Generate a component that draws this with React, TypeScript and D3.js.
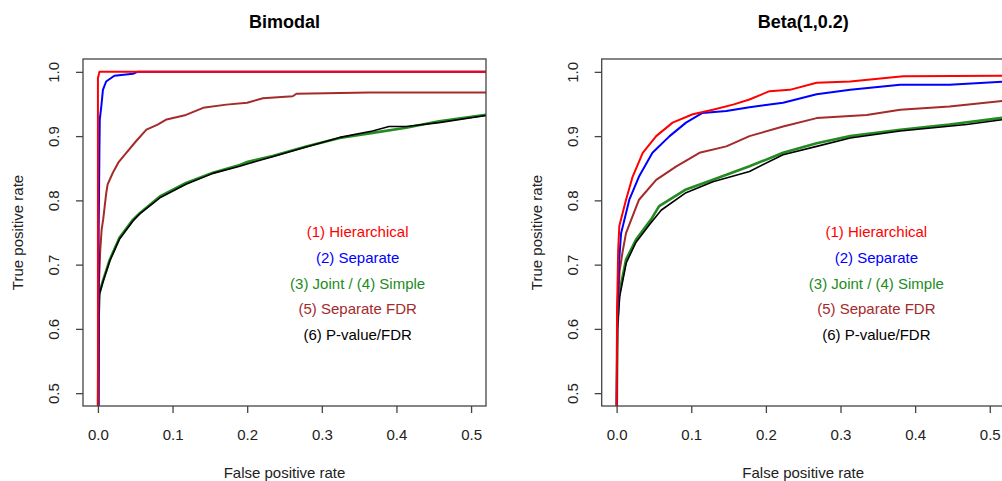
import React, { useRef, useEffect } from 'react';
import * as d3 from 'd3';

type Pt = [number, number];

// ROC points (false positive rate, true positive rate)
const bimodalHierarchical: Pt[] = [[0, 0.45], [0, 0.99], [0.002, 1.0], [0.52, 1.0]];
const bimodalSeparate: Pt[] = [[0.001, 0.45], [0.001, 0.75], [0.002, 0.88], [0.0025, 0.926], [0.0045, 0.946], [0.0067, 0.972], [0.011, 0.985], [0.022, 0.994], [0.047, 0.997], [0.053, 1.0], [0.52, 1.0]];
const bimodalSeparateFdr: Pt[] = [[0, 0.45], [0.001, 0.66], [0.003, 0.72], [0.005, 0.755], [0.007, 0.77], [0.009, 0.79], [0.011, 0.81], [0.013, 0.825], [0.02, 0.843], [0.028, 0.86], [0.038, 0.874], [0.051, 0.892], [0.065, 0.91], [0.08, 0.918], [0.092, 0.926], [0.118, 0.933], [0.141, 0.944], [0.172, 0.949], [0.2, 0.952], [0.221, 0.959], [0.261, 0.962], [0.266, 0.966], [0.364, 0.968], [0.52, 0.968]];
const bimodalJoint: Pt[] = [[0, 0.45], [0.001, 0.62], [0.002, 0.656], [0.007, 0.676], [0.016, 0.708], [0.029, 0.742], [0.047, 0.77], [0.056, 0.78], [0.083, 0.806], [0.118, 0.827], [0.154, 0.843], [0.19, 0.855], [0.201, 0.86], [0.234, 0.869], [0.279, 0.884], [0.324, 0.897], [0.368, 0.905], [0.413, 0.913], [0.457, 0.923], [0.52, 0.933]];
const bimodalPvalue: Pt[] = [[0, 0.45], [0.001, 0.62], [0.002, 0.654], [0.007, 0.674], [0.016, 0.706], [0.029, 0.74], [0.047, 0.768], [0.056, 0.779], [0.083, 0.804], [0.118, 0.825], [0.154, 0.842], [0.19, 0.853], [0.201, 0.857], [0.234, 0.868], [0.279, 0.883], [0.324, 0.898], [0.368, 0.908], [0.39, 0.915], [0.413, 0.915], [0.457, 0.921], [0.52, 0.932]];

const betaHierarchical: Pt[] = [[0, 0.45], [0.0005, 0.62], [0.002, 0.72], [0.0036, 0.76], [0.0126, 0.801], [0.0215, 0.837], [0.035, 0.874], [0.053, 0.9], [0.075, 0.921], [0.102, 0.934], [0.129, 0.941], [0.156, 0.949], [0.178, 0.957], [0.205, 0.97], [0.232, 0.972], [0.268, 0.983], [0.313, 0.985], [0.384, 0.993], [0.52, 0.994]];
const betaSeparate: Pt[] = [[0, 0.45], [0.0008, 0.62], [0.003, 0.7], [0.006, 0.749], [0.017, 0.801], [0.03, 0.837], [0.048, 0.874], [0.071, 0.9], [0.093, 0.921], [0.115, 0.936], [0.147, 0.939], [0.178, 0.945], [0.223, 0.952], [0.268, 0.965], [0.313, 0.972], [0.38, 0.98], [0.446, 0.98], [0.52, 0.985]];
const betaSeparateFdr: Pt[] = [[0, 0.45], [0.001, 0.62], [0.004, 0.69], [0.008, 0.72], [0.0126, 0.749], [0.03, 0.801], [0.053, 0.832], [0.08, 0.853], [0.111, 0.874], [0.147, 0.884], [0.178, 0.9], [0.223, 0.915], [0.268, 0.928], [0.335, 0.933], [0.38, 0.941], [0.446, 0.946], [0.52, 0.955]];
const betaJoint: Pt[] = [[0, 0.45], [0.001, 0.6], [0.0036, 0.656], [0.0126, 0.708], [0.026, 0.739], [0.046, 0.77], [0.057, 0.791], [0.093, 0.817], [0.129, 0.832], [0.178, 0.853], [0.223, 0.874], [0.268, 0.889], [0.313, 0.9], [0.38, 0.91], [0.446, 0.918], [0.52, 0.929]];
const betaPvalue: Pt[] = [[0, 0.45], [0.001, 0.6], [0.004, 0.65], [0.013, 0.703], [0.026, 0.735], [0.046, 0.765], [0.06, 0.785], [0.093, 0.812], [0.129, 0.829], [0.178, 0.845], [0.223, 0.871], [0.268, 0.884], [0.313, 0.897], [0.38, 0.908], [0.469, 0.918], [0.52, 0.926]];

const xTicks = [0, 0.1, 0.2, 0.3, 0.4, 0.5];
const yTicks = [0.5, 0.6, 0.7, 0.8, 0.9, 1.0];
const legendLabels = ['(1) Hierarchical', '(2) Separate', '(3) Joint / (4) Simple', '(5) Separate FDR', '(6) P-value/FDR'];
const legendColors = ['#ff0000', '#0000ff', '#228b22', '#a52a2a', '#000000'];

const panels = [
  { title: 'Bimodal', left: 83, series: [bimodalJoint, bimodalPvalue, bimodalSeparateFdr, bimodalSeparate, bimodalHierarchical] },
  { title: 'Beta(1,0.2)', left: 601.7, series: [betaJoint, betaPvalue, betaSeparateFdr, betaSeparate, betaHierarchical] },
];
// drawing order: green, black, brown, blue, red
const seriesColors = ['#228b22', '#000000', '#a52a2a', '#0000ff', '#ff0000'];
const seriesWidths = [2.6, 1.6, 2, 2, 2];

const FONT = '"Liberation Sans", Arial, Helvetica, sans-serif';

const App = () => {
  const svg = useRef<SVGSVGElement>(null);
  const width = 1002;
  const height = 481;
  const plotW = 403;
  const top = 59;
  const bottom = 406;

  useEffect(() => {
    const root = d3.select(svg.current);
    root.selectAll('*').remove();

    panels.forEach((p, i) => {
      const x = d3.scaleLinear().domain([-0.02, 0.52]).range([p.left, p.left + plotW]);
      const y = d3.scaleLinear().domain([0.48, 1.02]).range([bottom, top]);
      const g = root.append('g').attr('font-family', FONT);

      const clipId = `clip${i}`;
      g.append('clipPath').attr('id', clipId)
        .append('rect')
        .attr('x', p.left).attr('y', top)
        .attr('width', plotW).attr('height', bottom - top);

      const line = d3.line<Pt>().x(d => x(d[0])).y(d => y(d[1]));
      p.series.forEach((s, k) => {
        g.append('path')
          .datum(s)
          .attr('clip-path', `url(#${clipId})`)
          .attr('fill', 'none')
          .attr('stroke', seriesColors[k])
          .attr('stroke-width', seriesWidths[k])
          .attr('stroke-linejoin', 'round')
          .attr('d', line);
      });

      // box round the plot region
      g.append('rect')
        .attr('x', p.left).attr('y', top)
        .attr('width', plotW).attr('height', bottom - top)
        .attr('fill', 'none').attr('stroke', '#444').attr('stroke-width', 1.3);

      const xAxis = g.append('g')
        .attr('transform', `translate(0, ${bottom})`)
        .call(d3.axisBottom(x).tickValues(xTicks).tickFormat(d3.format('.1f')).tickSize(7).tickSizeOuter(0));
      xAxis.select('.domain').remove();
      xAxis.selectAll('line').attr('stroke', '#444').attr('stroke-width', 1.3);
      xAxis.selectAll('text')
        .attr('font-size', 15).attr('font-family', FONT).attr('fill', '#222')
        .attr('y', 29).attr('dy', '0.35em');

      const yAxis = g.append('g')
        .attr('transform', `translate(${p.left}, 0)`)
        .call(d3.axisLeft(y).tickValues(yTicks).tickFormat(d3.format('.1f')).tickSize(7).tickSizeOuter(0));
      yAxis.select('.domain').remove();
      yAxis.selectAll('line').attr('stroke', '#444').attr('stroke-width', 1.3);
      yAxis.selectAll('text')
        .attr('font-size', 15).attr('font-family', FONT).attr('fill', '#222')
        .attr('transform', 'rotate(-90)')
        .attr('x', 0).attr('y', -29).attr('dy', '0.35em')
        .attr('text-anchor', 'middle');

      // titles and axis labels
      g.append('text')
        .attr('x', p.left + plotW / 2).attr('y', 28)
        .attr('text-anchor', 'middle')
        .attr('font-size', 18).attr('font-weight', 'bold')
        .text(p.title);

      g.append('text')
        .attr('x', p.left + plotW / 2).attr('y', bottom + 67).attr('dy', '0.35em')
        .attr('text-anchor', 'middle').attr('font-size', 15).attr('fill', '#222')
        .text('False positive rate');

      g.append('text')
        .attr('transform', `translate(${p.left - 65}, ${(top + bottom) / 2}) rotate(-90)`)
        .attr('dy', '0.35em')
        .attr('text-anchor', 'middle').attr('font-size', 15).attr('fill', '#222')
        .text('True positive rate');

      // legend, text only
      legendLabels.forEach((lab, k) => {
        g.append('text')
          .attr('x', x(0.348)).attr('y', y(0.751 - 0.04 * k)).attr('dy', '0.35em')
          .attr('text-anchor', 'middle').attr('font-size', 15)
          .attr('fill', legendColors[k])
          .text(lab);
      });
    });
  }, []);

  return (
    <svg
      width={width}
      height={height}
      ref={svg}
      style={{ position: 'absolute', left: 0, top: 0, display: 'block', background: '#fff' }}
    >
    </svg>
  );
};

export default App;
